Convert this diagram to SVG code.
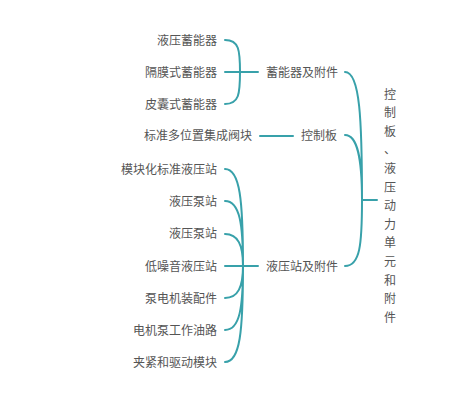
<svg xmlns="http://www.w3.org/2000/svg" width="451" height="402" viewBox="0 0 451 402">
<style>
text{font-family:"Noto Sans CJK SC","Noto Sans",sans-serif;font-size:12px;fill:#555;}
.l{text-anchor:end;}
.s{text-anchor:start;}
.c{fill:none;stroke:#38a1aa;stroke-width:2;stroke-linecap:round;}
</style>
<rect width="451" height="402" fill="#fff"/>
<g id="connectors">
<path class="c" d="M225,40 C239,40 240,50 240,72 M225,104 C239,104 240,94 240,72 M225,72 H258"/>
<path class="c" d="M260,136 H293"/>
<path class="c" d="M225,169 C240,169 243,200 243,266 M225,201 C240,201 243,225 243,266 M225,234 C238,234 243,245 243,266 M225,266 H258 M225,298 C238,298 243,287 243,266 M225,330 C240,330 243,307 243,266 M225,362 C240,362 243,332 243,266"/>
<path class="c" d="M345,72 C360,72 362,120 362,200 M345,135 C358,135 362,160 362,200 M345,266 C360,266 362,245 362,200 M362,200 H377"/>
</g>
<g id="n1"><text class="l" x="217" y="44.5">液压蓄能器</text></g>
<g id="n2"><text class="l" x="217" y="76.5">隔膜式蓄能器</text></g>
<g id="n3"><text class="l" x="217" y="108.5">皮囊式蓄能器</text></g>
<g id="n4"><text class="l" x="252" y="140">标准多位置集成阀块</text></g>
<g id="n5"><text class="l" x="217" y="173.5">模块化标准液压站</text></g>
<g id="n6"><text class="l" x="217" y="205.5">液压泵站</text></g>
<g id="n7"><text class="l" x="217" y="238">液压泵站</text></g>
<g id="n8"><text class="l" x="217" y="270.5">低噪音液压站</text></g>
<g id="n9"><text class="l" x="217" y="302.5">泵电机装配件</text></g>
<g id="n10"><text class="l" x="217" y="334.5">电机泵工作油路</text></g>
<g id="n11"><text class="l" x="217" y="366.5">夹紧和驱动模块</text></g>
<g id="p1"><text class="s" x="266" y="76.5">蓄能器及附件</text></g>
<g id="p2"><text class="s" x="301" y="140">控制板</text></g>
<g id="p3"><text class="s" x="266" y="270.5">液压站及附件</text></g>
<g id="root"><text x="390" y="98.5" text-anchor="middle"><tspan x="390">控</tspan><tspan x="390" dy="18.6">制</tspan><tspan x="390" dy="18.6">板</tspan><tspan x="390" dy="18.6">、</tspan><tspan x="390" dy="18.6">液</tspan><tspan x="390" dy="18.6">压</tspan><tspan x="390" dy="18.6">动</tspan><tspan x="390" dy="18.6">力</tspan><tspan x="390" dy="18.6">单</tspan><tspan x="390" dy="18.6">元</tspan><tspan x="390" dy="18.6">和</tspan><tspan x="390" dy="18.6">附</tspan><tspan x="390" dy="18.6">件</tspan></text></g>
</svg>
